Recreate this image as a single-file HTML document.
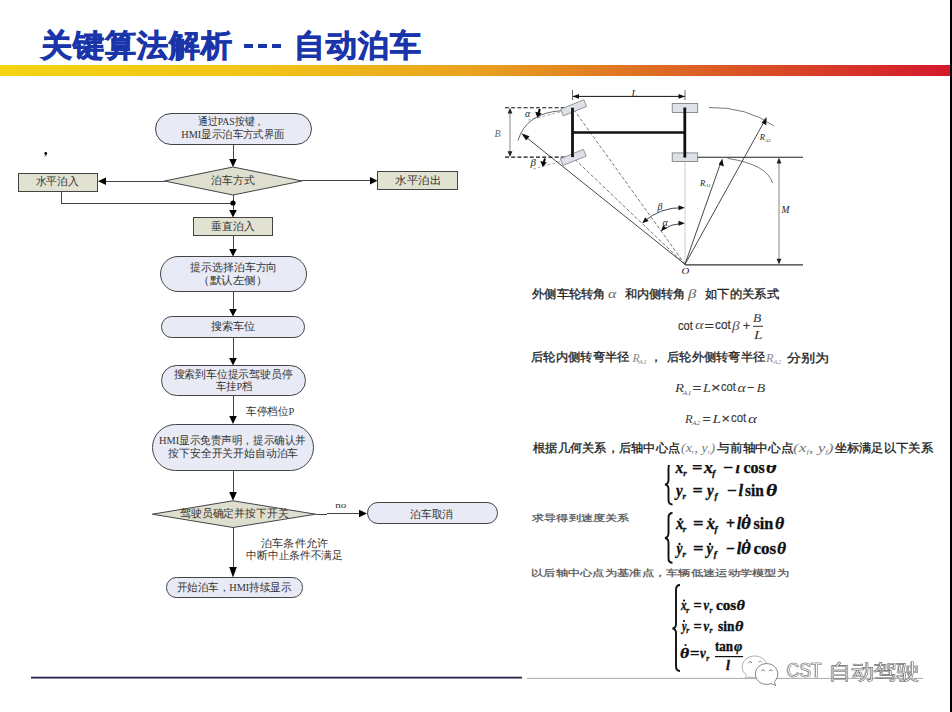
<!DOCTYPE html>
<html><head><meta charset="utf-8">
<style>
html,body{margin:0;padding:0;}
body{width:952px;height:712px;background:#fff;position:relative;overflow:hidden;font-family:"Liberation Sans",sans-serif;}
.a{position:absolute;white-space:nowrap;}
#title,#title2{top:25.5px;font-size:31px;font-weight:bold;color:#1a35aa;line-height:40px;letter-spacing:1px;-webkit-text-stroke:0.8px #1a35aa;}
#bar{left:0;top:65px;width:950px;height:11px;background:linear-gradient(90deg,#f3d412 0%,#f2c318 27%,#e9a21f 50%,#de6f24 68%,#d84426 84%,#d4182c 100%);}
#edge{left:950px;top:0;width:2px;height:712px;background:#000;}
svg{position:absolute;left:0;top:0;}
</style></head><body>
<div id="title" class="a" style="left:41px;">关键算法解析</div>
<div class="a" style="left:244px;top:44.3px;width:9.3px;height:3.5px;background:#1a35aa;"></div>
<div class="a" style="left:258.2px;top:44.3px;width:9.3px;height:3.5px;background:#1a35aa;"></div>
<div class="a" style="left:271.9px;top:44.3px;width:9.3px;height:3.5px;background:#1a35aa;"></div>
<div id="title2" class="a" style="left:294px;">自动泊车</div>
<div id="bar" class="a"></div>
<div id="edge" class="a"></div>
<svg width="952" height="712" viewBox="0 0 952 712">
<!-- flowchart -->
<g stroke="#444" stroke-width="1" fill="none">
<!-- box1 -->
<rect x="155.5" y="113.5" width="156.0" height="31.0" rx="15.5" fill="#e8eaf5"/>
<line shape-rendering="crispEdges" x1="233" y1="144" x2="233" y2="159"/>
<!-- diamond1 -->
<polygon points="233,167 302,181 233,195 164.5,181" fill="#dfdfcf"/>
<line shape-rendering="crispEdges" x1="164.5" y1="181.3" x2="106" y2="181.3"/>
<line shape-rendering="crispEdges" x1="302" y1="181" x2="370" y2="180.7"/>
<rect x="18.5" y="173.5" width="79.0" height="18.0" fill="#e1e2d2"/>
<rect x="377.5" y="171.5" width="80.0" height="18.0" fill="#e1e2d2"/>
<polyline shape-rendering="crispEdges" points="61.5,191 61.5,203 233,203"/>
<line shape-rendering="crispEdges" x1="233" y1="195" x2="233" y2="210"/>
<rect x="193.5" y="217.5" width="79.0" height="18.0" fill="#e1e2d2"/>
<line shape-rendering="crispEdges" x1="233" y1="235" x2="233" y2="249"/>
<rect x="160.5" y="256.5" width="146.0" height="35.0" rx="17.5" fill="#e8eaf5"/>
<line shape-rendering="crispEdges" x1="233" y1="291.5" x2="233" y2="309"/>
<rect x="161.5" y="316.5" width="143.0" height="21.0" rx="10.25" fill="#e8eaf5"/>
<line shape-rendering="crispEdges" x1="233" y1="337" x2="233" y2="358"/>
<rect x="161.5" y="365.5" width="144.0" height="30.0" rx="15" fill="#e8eaf5"/>
<line shape-rendering="crispEdges" x1="233" y1="395.5" x2="233" y2="416"/>
<rect x="152.5" y="424.5" width="161.0" height="46.0" rx="23" fill="#e8eaf5"/>
<line shape-rendering="crispEdges" x1="233" y1="470" x2="233" y2="492"/>
<polygon points="233,500.8 315.7,514.2 233,527.5 152.3,514.2" fill="#dfdfcf"/>
<line shape-rendering="crispEdges" x1="315.7" y1="514.2" x2="359" y2="513.5"/>
<rect x="367.5" y="502.5" width="130.0" height="21.0" rx="10.4" fill="#e8eaf5"/>
<line shape-rendering="crispEdges" x1="233" y1="527.5" x2="233" y2="567"/>
<rect x="166.5" y="577.5" width="136.0" height="20.0" rx="9.8" fill="#e8eaf5"/>
</g>
<g fill="#000">
<!-- arrowheads down -->
<path d="M229.2,159 L236.8,159 L233,167 z"/>
<path d="M229.2,210 L236.8,210 L233,217.5 z"/>
<path d="M229.2,249 L236.8,249 L233,256.5 z"/>
<path d="M229.2,309 L236.8,309 L233,316.5 z"/>
<path d="M229.2,358 L236.8,358 L233,365.5 z"/>
<path d="M229.2,416 L236.8,416 L233,424 z"/>
<path d="M229.2,492 L236.8,492 L233,500.8 z"/>
<path d="M229.2,567 L236.8,567 L233,577.5 z"/>
<!-- left arrow -->
<path d="M106,177.5 L106,185.1 L98,181.3 z"/>
<!-- right arrows -->
<path d="M370,176.9 L370,184.5 L377.5,180.7 z"/>
<path d="M359,509.7 L359,517.3 L367,513.5 z"/>
<circle cx="233" cy="203" r="2.6"/>
</g>
<!-- diagram -->
<g fill="none">
<!-- L dimension -->
<line x1="572.5" y1="90" x2="572.5" y2="100" stroke="#444" stroke-width="0.8"/>
<line x1="685" y1="90" x2="685" y2="100" stroke="#444" stroke-width="0.8"/>
<line x1="573" y1="96.4" x2="684.5" y2="96.4" stroke="#111" stroke-width="1"/>
<path d="M572.5,96.4 L579,94 L579,98.8 z" fill="#111"/>
<path d="M685,96.4 L678.5,94 L678.5,98.8 z" fill="#111"/>
<!-- dashed B lines -->
<line x1="505" y1="107.7" x2="572.5" y2="107.7" stroke="#111" stroke-width="1.1" stroke-dasharray="4,2.2"/>
<line x1="505" y1="157.1" x2="572.5" y2="157.1" stroke="#111" stroke-width="1.1" stroke-dasharray="4,2.2"/>
<line x1="510" y1="110" x2="510" y2="155" stroke="#999" stroke-width="1.2"/>
<path d="M510,107.7 L507.6,113.5 L512.4,113.5 z" fill="#222"/>
<path d="M510,157.1 L507.6,151.3 L512.4,151.3 z" fill="#222"/>
<!-- wheel direction dashed -->
<line x1="560" y1="112" x2="527" y2="120.5" stroke="#888" stroke-width="0.7" stroke-dasharray="3,2"/>
<line x1="560" y1="161.5" x2="531" y2="169.7" stroke="#888" stroke-width="0.7" stroke-dasharray="3,2"/>
<!-- small angle arrows -->
<line x1="539.8" y1="109" x2="538.6" y2="113" stroke="#000" stroke-width="2"/>
<path d="M535.2,111.8 L541.6,113.2 L537.6,118 z" fill="#000"/>
<line x1="545" y1="158.5" x2="543.8" y2="162" stroke="#000" stroke-width="2"/>
<path d="M540.4,161 L546.8,162.4 L542.6,167 z" fill="#000"/>
<!-- lines to O -->
<line x1="685" y1="264.3" x2="572.5" y2="107.7" stroke="#555" stroke-width="0.8" stroke-dasharray="3.5,2"/>
<line x1="685" y1="264.3" x2="572.5" y2="157.1" stroke="#555" stroke-width="0.8" stroke-dasharray="3.5,2"/>
<line x1="685" y1="264.3" x2="524" y2="135.5" stroke="#333" stroke-width="0.9"/>
<path d="M521.3,133.3 L529.5,136.2 L526.2,140.4 z" fill="#111"/>
<line x1="685" y1="161.6" x2="685" y2="264.3" stroke="#999" stroke-width="0.8" stroke-dasharray="1.2,0.8"/>
<!-- outer arc left -->
<path d="M518,140.5 Q526.3,113 561.3,110.7" stroke="#444" stroke-width="0.8"/>
<!-- front wheels -->
<g transform="translate(573.6,107.8) rotate(-22)"><rect x="-12.5" y="-3.6" width="25" height="7.2" fill="#dfe1e9" stroke="#888" stroke-width="0.8"/></g>
<g transform="translate(573.2,157.4) rotate(-22)"><rect x="-12.5" y="-3.6" width="25" height="7.2" fill="#dfe1e9" stroke="#888" stroke-width="0.8"/></g>
<!-- rear wheels -->
<rect x="672.2" y="103.5" width="25.5" height="8.9" fill="#dfe1e9" stroke="#777" stroke-width="0.8"/>
<rect x="672.2" y="152.9" width="25.5" height="8.7" fill="#dfe1e9" stroke="#777" stroke-width="0.8"/>
<!-- axles and body -->
<line x1="572.5" y1="107.7" x2="572.5" y2="157.1" stroke="#111" stroke-width="2.8"/>
<line x1="684.8" y1="107.5" x2="684.8" y2="157.6" stroke="#111" stroke-width="2.8"/>
<line x1="572.5" y1="132.5" x2="684.8" y2="132.5" stroke="#111" stroke-width="2.6"/>
<!-- right side -->
<line x1="697.7" y1="157.3" x2="803" y2="157.3" stroke="#222" stroke-width="1.1"/>
<line x1="685" y1="264.8" x2="803" y2="264.8" stroke="#333" stroke-width="1.2"/>
<path d="M709,107.5 Q746.7,106.8 774,126" stroke="#555" stroke-width="0.8"/>
<path d="M727.5,158.4 Q766.8,164.2 772.6,183" stroke="#555" stroke-width="0.8"/>
<line x1="685" y1="264.3" x2="764.5" y2="121" stroke="#333" stroke-width="0.9"/>
<path d="M766.5,117.1 L766.3,125.2 L761.6,122.6 z" fill="#111"/>
<line x1="685" y1="264.3" x2="720.8" y2="162.5" stroke="#333" stroke-width="0.9"/>
<path d="M722.3,158.4 L723.8,166.4 L718.7,164.6 z" fill="#111"/>
<line x1="779" y1="160" x2="779" y2="262" stroke="#999" stroke-width="1.2"/>
<path d="M779,157.6 L776.6,163.5 L781.4,163.5 z" fill="#222"/>
<path d="M779,264.6 L776.6,258.7 L781.4,258.7 z" fill="#222"/>
<!-- angle arcs at O -->
<path d="M683,207.7 A57,57 0 0 0 643.5,222" stroke="#333" stroke-width="0.9"/>
<path d="M684.8,207.8 L678.5,205.3 L678.5,210.3 z" fill="#111"/>
<path d="M642.2,223.2 L645.2,217.3 L648.6,221 z" fill="#111"/>
<path d="M683,223.2 A41,41 0 0 0 662,230" stroke="#333" stroke-width="0.9"/>
<path d="M684.8,223.2 L678.5,220.7 L678.5,225.7 z" fill="#111"/>
<path d="M660.8,231.2 L663.2,225.2 L666.8,228.6 z" fill="#111"/>
</g>
<g font-family="Liberation Serif,serif" font-style="italic" fill="#222">
<text x="631.5" y="97" font-size="10">L</text>
<text x="494.5" y="137" font-size="10" fill="#666">B</text>
<text x="525" y="116.5" font-size="10">α</text>
<text x="530.5" y="166" font-size="11">β</text>
<text x="657.5" y="209.5" font-size="10">β</text>
<text x="662.5" y="225.5" font-size="10">α</text>
<text x="681.6" y="274" font-size="9" transform="translate(681.6,274) scale(1.2,1) translate(-681.6,-274)">O</text>
<text x="781.5" y="212.5" font-size="9.5">M</text>
<text x="759.8" y="140" font-size="8.5">R<tspan font-size="5" dy="1.5">A2</tspan></text>
<text x="700" y="185.5" font-size="8.5">R<tspan font-size="5" dy="1.5">A1</tspan></text>
</g>
<!-- braces -->
<g fill="none" stroke="#111" stroke-width="1.9">
<path d="M672.5,463 Q668.5,463 668.5,468 L668.5,480 Q668.5,484 665,484.5 Q668.5,485 668.5,489 L668.5,500 Q668.5,504.5 672.5,504.5"/>
<path d="M672.5,513 Q668.5,513 668.5,518 L668.5,533 Q668.5,537.5 665,538 Q668.5,538.5 668.5,543 L668.5,558 Q668.5,562.8 672.5,562.8"/>
<path d="M680,585 Q676,585 676,590 L676,624 Q676,628 672.5,628.5 Q676,629 676,633 L676,666 Q676,671 680,671"/>
</g>
<circle cx="45.7" cy="153.4" r="1.35" fill="#000"/><path d="M46.6,153.6 Q46.6,155.6 44.6,156.4" stroke="#222" stroke-width="0.8" fill="none"/>
<!-- bottom lines -->
<line x1="31" y1="677.6" x2="522" y2="677.6" stroke="#25204a" stroke-width="1.6"/>
<line x1="527" y1="678.4" x2="923" y2="678.4" stroke="#aaa" stroke-width="1"/>
</svg>
<svg width="952" height="712" viewBox="0 0 952 712" style="position:absolute;left:0;top:0">
<text x="675.50" y="472.70" font-size="16.5" font-family="Liberation Serif,serif" fill="#111" font-style="italic" font-weight="bold" textLength="7.79" lengthAdjust="spacingAndGlyphs" stroke="#111" stroke-width="0.35">x</text>
<text x="683.20" y="475.70" font-size="9" font-family="Liberation Serif,serif" fill="#111" font-style="italic" font-weight="bold" stroke="#111" stroke-width="0.35">r</text>
<text x="692.00" y="472.70" font-size="16.5" font-family="Liberation Serif,serif" fill="#111" font-weight="bold" textLength="10.47" lengthAdjust="spacingAndGlyphs" stroke="#111" stroke-width="0.35">=</text>
<text x="704.00" y="472.70" font-size="16.5" font-family="Liberation Serif,serif" fill="#111" font-style="italic" font-weight="bold" textLength="8.86" lengthAdjust="spacingAndGlyphs" stroke="#111" stroke-width="0.35">x</text>
<text x="712.30" y="475.70" font-size="9" font-family="Liberation Serif,serif" fill="#111" font-style="italic" font-weight="bold" stroke="#111" stroke-width="0.35">f</text>
<text x="723.00" y="472.70" font-size="16.5" font-family="Liberation Serif,serif" fill="#111" font-weight="bold" textLength="10.13" lengthAdjust="spacingAndGlyphs" stroke="#111" stroke-width="0.35">−</text>
<text x="735.40" y="472.70" font-size="16.5" font-family="Liberation Serif,serif" fill="#111" font-style="italic" font-weight="bold" stroke="#111" stroke-width="0.35">l</text>
<text x="743.50" y="472.70" font-size="16.5" font-family="Liberation Serif,serif" fill="#111" font-weight="bold" textLength="21.23" lengthAdjust="spacingAndGlyphs" stroke="#111" stroke-width="0.35">cos</text>
<text x="766.00" y="472.70" font-size="16.5" font-family="Liberation Serif,serif" fill="#111" font-style="italic" font-weight="bold" textLength="10.47" lengthAdjust="spacingAndGlyphs" stroke="#111" stroke-width="0.35">θ</text>
<rect x="528" y="437" width="415" height="28" fill="#fff"/>
<text x="532.00" y="297.70" font-size="12.4" font-family="Liberation Sans,sans-serif" fill="#1e1e1e" textLength="73.67" lengthAdjust="spacingAndGlyphs" stroke="#1e1e1e" stroke-width="0.3">外侧车轮转角</text>
<text x="608.00" y="297.70" font-size="13" font-family="Liberation Serif,serif" fill="#666" font-style="italic" textLength="8.36" lengthAdjust="spacingAndGlyphs">α</text>
<text x="624.50" y="298.20" font-size="12.4" font-family="Liberation Sans,sans-serif" fill="#1e1e1e" textLength="61.18" lengthAdjust="spacingAndGlyphs" stroke="#1e1e1e" stroke-width="0.3">和内侧转角</text>
<text x="688.00" y="297.70" font-size="13" font-family="Liberation Serif,serif" fill="#666" font-style="italic" textLength="8.24" lengthAdjust="spacingAndGlyphs">β</text>
<text x="705.00" y="298.20" font-size="12.4" font-family="Liberation Sans,sans-serif" fill="#1e1e1e" textLength="74.05" lengthAdjust="spacingAndGlyphs" stroke="#1e1e1e" stroke-width="0.3">如下的关系式</text>
<text x="678.00" y="329.70" font-size="13.5" font-family="Liberation Sans,sans-serif" fill="#333" textLength="14.81" lengthAdjust="spacingAndGlyphs" stroke="#333" stroke-width="0.2">cot</text>
<text x="695.00" y="328.70" font-size="13.5" font-family="Liberation Serif,serif" fill="#555" font-style="italic" textLength="8.63" lengthAdjust="spacingAndGlyphs">α</text>
<text x="704.50" y="329.70" font-size="13.5" font-family="Liberation Sans,sans-serif" fill="#333" textLength="9.43" lengthAdjust="spacingAndGlyphs" stroke="#333" stroke-width="0.2">=</text>
<text x="715.00" y="329.20" font-size="13.5" font-family="Liberation Sans,sans-serif" fill="#333" textLength="15.76" lengthAdjust="spacingAndGlyphs" stroke="#333" stroke-width="0.2">cot</text>
<text x="732.00" y="329.70" font-size="13.5" font-family="Liberation Serif,serif" fill="#555" font-style="italic" textLength="7.63" lengthAdjust="spacingAndGlyphs">β</text>
<text x="743.00" y="329.70" font-size="13.5" font-family="Liberation Sans,sans-serif" fill="#333" textLength="7.10" lengthAdjust="spacingAndGlyphs" stroke="#333" stroke-width="0.2">+</text>
<text x="753.00" y="321.70" font-size="12.5" font-family="Liberation Serif,serif" fill="#333" font-style="italic" textLength="8.25" lengthAdjust="spacingAndGlyphs">B</text>
<text x="754.00" y="338.70" font-size="12.5" font-family="Liberation Serif,serif" fill="#333" font-style="italic" textLength="8.48" lengthAdjust="spacingAndGlyphs">L</text>
<text x="531.00" y="361.00" font-size="12.1" font-family="Liberation Sans,sans-serif" fill="#1e1e1e" textLength="98.59" lengthAdjust="spacingAndGlyphs" stroke="#1e1e1e" stroke-width="0.3">后轮内侧转弯半径</text>
<text x="632.50" y="362.40" font-size="11.5" font-family="Liberation Serif,serif" fill="#888" font-style="italic" textLength="7.10" lengthAdjust="spacingAndGlyphs">R</text>
<text x="638.00" y="364.40" font-size="6" font-family="Liberation Serif,serif" fill="#999" font-style="italic" textLength="9.02" lengthAdjust="spacingAndGlyphs">A1</text>
<text x="649.50" y="361.00" font-size="12.1" font-family="Liberation Sans,sans-serif" fill="#1e1e1e" stroke="#1e1e1e" stroke-width="0.3">，</text>
<text x="667.00" y="361.00" font-size="12.1" font-family="Liberation Sans,sans-serif" fill="#1e1e1e" textLength="98.07" lengthAdjust="spacingAndGlyphs" stroke="#1e1e1e" stroke-width="0.3">后轮外侧转弯半径</text>
<text x="766.00" y="362.40" font-size="11.5" font-family="Liberation Serif,serif" fill="#888" font-style="italic" textLength="7.52" lengthAdjust="spacingAndGlyphs">R</text>
<text x="773.00" y="364.40" font-size="6" font-family="Liberation Serif,serif" fill="#999" font-style="italic" textLength="8.34" lengthAdjust="spacingAndGlyphs">A2</text>
<text x="787.00" y="361.50" font-size="12.1" font-family="Liberation Sans,sans-serif" fill="#1e1e1e" textLength="42.22" lengthAdjust="spacingAndGlyphs" stroke="#1e1e1e" stroke-width="0.3">分别为</text>
<text x="675.00" y="392.20" font-size="12.5" font-family="Liberation Serif,serif" fill="#3a3a3a" font-style="italic" textLength="8.97" lengthAdjust="spacingAndGlyphs">R</text>
<text x="682.50" y="394.70" font-size="6.5" font-family="Liberation Serif,serif" fill="#666" font-style="italic" textLength="8.93" lengthAdjust="spacingAndGlyphs">A1</text>
<text x="692.50" y="392.20" font-size="13" font-family="Liberation Sans,sans-serif" fill="#3a3a3a" textLength="8.80" lengthAdjust="spacingAndGlyphs" stroke="#3a3a3a" stroke-width="0.2">=</text>
<text x="703.00" y="392.20" font-size="12.5" font-family="Liberation Serif,serif" fill="#3a3a3a" font-style="italic" textLength="8.02" lengthAdjust="spacingAndGlyphs">L</text>
<text x="711.00" y="392.20" font-size="12" font-family="Liberation Sans,sans-serif" fill="#3a3a3a" textLength="9.51" lengthAdjust="spacingAndGlyphs" stroke="#3a3a3a" stroke-width="0.2">×</text>
<text x="721.00" y="390.90" font-size="13.5" font-family="Liberation Sans,sans-serif" fill="#3a3a3a" textLength="14.74" lengthAdjust="spacingAndGlyphs" stroke="#3a3a3a" stroke-width="0.2">cot</text>
<text x="737.50" y="392.20" font-size="13.5" font-family="Liberation Serif,serif" fill="#3a3a3a" font-style="italic" textLength="8.25" lengthAdjust="spacingAndGlyphs">α</text>
<text x="747.00" y="392.20" font-size="13" font-family="Liberation Sans,sans-serif" fill="#3a3a3a" textLength="7.33" lengthAdjust="spacingAndGlyphs" stroke="#3a3a3a" stroke-width="0.2">−</text>
<text x="756.50" y="392.20" font-size="12.5" font-family="Liberation Serif,serif" fill="#3a3a3a" font-style="italic" textLength="8.71" lengthAdjust="spacingAndGlyphs">B</text>
<text x="685.00" y="422.70" font-size="12.5" font-family="Liberation Serif,serif" fill="#3a3a3a" font-style="italic" textLength="7.54" lengthAdjust="spacingAndGlyphs">R</text>
<text x="692.00" y="425.20" font-size="6.5" font-family="Liberation Serif,serif" fill="#666" font-style="italic" textLength="8.29" lengthAdjust="spacingAndGlyphs">A2</text>
<text x="702.50" y="422.70" font-size="13" font-family="Liberation Sans,sans-serif" fill="#3a3a3a" textLength="8.18" lengthAdjust="spacingAndGlyphs" stroke="#3a3a3a" stroke-width="0.2">=</text>
<text x="712.50" y="422.70" font-size="12.5" font-family="Liberation Serif,serif" fill="#3a3a3a" font-style="italic" textLength="8.55" lengthAdjust="spacingAndGlyphs">L</text>
<text x="721.50" y="422.70" font-size="12" font-family="Liberation Sans,sans-serif" fill="#3a3a3a" textLength="8.42" lengthAdjust="spacingAndGlyphs" stroke="#3a3a3a" stroke-width="0.2">×</text>
<text x="731.00" y="421.90" font-size="13.5" font-family="Liberation Sans,sans-serif" fill="#3a3a3a" textLength="15.14" lengthAdjust="spacingAndGlyphs" stroke="#3a3a3a" stroke-width="0.2">cot</text>
<text x="748.00" y="422.70" font-size="13.5" font-family="Liberation Serif,serif" fill="#3a3a3a" font-style="italic" textLength="9.00" lengthAdjust="spacingAndGlyphs">α</text>
<text x="533.00" y="451.90" font-size="12.3" font-family="Liberation Sans,sans-serif" fill="#1e1e1e" textLength="147.09" lengthAdjust="spacingAndGlyphs" stroke="#1e1e1e" stroke-width="0.3">根据几何关系，后轴中心点</text>
<text x="681.00" y="451.90" font-size="12" font-family="Liberation Serif,serif" fill="#777" font-style="italic" textLength="34.06" lengthAdjust="spacingAndGlyphs">(x<tspan font-size="6" dy="2">r</tspan><tspan dy="-2">, y</tspan><tspan font-size="6" dy="2">r</tspan><tspan dy="-2">)</tspan></text>
<text x="717.00" y="451.90" font-size="12.3" font-family="Liberation Sans,sans-serif" fill="#1e1e1e" textLength="76.52" lengthAdjust="spacingAndGlyphs" stroke="#1e1e1e" stroke-width="0.3">与前轴中心点</text>
<text x="793.00" y="451.90" font-size="12" font-family="Liberation Serif,serif" fill="#777" font-style="italic" textLength="40.58" lengthAdjust="spacingAndGlyphs">(x<tspan font-size="6" dy="2">f</tspan><tspan dy="-2">, y</tspan><tspan font-size="6" dy="2">f</tspan><tspan dy="-2">)</tspan></text>
<text x="834.50" y="451.90" font-size="12.3" font-family="Liberation Sans,sans-serif" fill="#1e1e1e" textLength="98.53" lengthAdjust="spacingAndGlyphs" stroke="#1e1e1e" stroke-width="0.3">坐标满足以下关系</text>
<text x="532.00" y="521.40" font-size="9.2" font-family="Liberation Sans,sans-serif" fill="#555" textLength="97.61" lengthAdjust="spacingAndGlyphs" stroke="#555" stroke-width="0.25">求导得到速度关系</text>
<text x="531.00" y="576.40" font-size="9.2" font-family="Liberation Sans,sans-serif" fill="#555" textLength="258.05" lengthAdjust="spacingAndGlyphs" stroke="#555" stroke-width="0.25">以后轴中心点为基准点，车辆低速运动学模型为</text>
<text x="676.00" y="496.20" font-size="16.5" font-family="Liberation Serif,serif" fill="#111" font-style="italic" font-weight="bold" textLength="6.63" lengthAdjust="spacingAndGlyphs" stroke="#111" stroke-width="0.35">y</text>
<text x="682.50" y="499.20" font-size="9" font-family="Liberation Serif,serif" fill="#111" font-style="italic" font-weight="bold" stroke="#111" stroke-width="0.35">r</text>
<text x="692.50" y="496.20" font-size="16.5" font-family="Liberation Serif,serif" fill="#111" font-weight="bold" textLength="10.28" lengthAdjust="spacingAndGlyphs" stroke="#111" stroke-width="0.35">=</text>
<text x="707.00" y="496.20" font-size="16.5" font-family="Liberation Serif,serif" fill="#111" font-style="italic" font-weight="bold" textLength="6.67" lengthAdjust="spacingAndGlyphs" stroke="#111" stroke-width="0.35">y</text>
<text x="714.50" y="499.20" font-size="9" font-family="Liberation Serif,serif" fill="#111" font-style="italic" font-weight="bold" stroke="#111" stroke-width="0.35">f</text>
<text x="727.00" y="496.20" font-size="16.5" font-family="Liberation Serif,serif" fill="#111" font-weight="bold" textLength="9.84" lengthAdjust="spacingAndGlyphs" stroke="#111" stroke-width="0.35">−</text>
<text x="738.60" y="496.20" font-size="16.5" font-family="Liberation Serif,serif" fill="#111" font-style="italic" font-weight="bold" stroke="#111" stroke-width="0.35">l</text>
<text x="745.00" y="496.20" font-size="16.5" font-family="Liberation Serif,serif" fill="#111" font-weight="bold" textLength="18.74" lengthAdjust="spacingAndGlyphs" stroke="#111" stroke-width="0.35">sin</text>
<text x="766.00" y="496.20" font-size="16.5" font-family="Liberation Serif,serif" fill="#111" font-style="italic" font-weight="bold" textLength="11.11" lengthAdjust="spacingAndGlyphs" stroke="#111" stroke-width="0.35">θ</text>
<text x="676.00" y="529.30" font-size="16.5" font-family="Liberation Serif,serif" fill="#111" font-style="italic" font-weight="bold" textLength="7.73" lengthAdjust="spacingAndGlyphs" stroke="#111" stroke-width="0.35">x</text>
<text x="682.80" y="532.30" font-size="9" font-family="Liberation Serif,serif" fill="#111" font-style="italic" font-weight="bold" stroke="#111" stroke-width="0.35">r</text>
<text x="693.00" y="529.30" font-size="16.5" font-family="Liberation Serif,serif" fill="#111" font-weight="bold" textLength="10.57" lengthAdjust="spacingAndGlyphs" stroke="#111" stroke-width="0.35">=</text>
<text x="706.50" y="529.30" font-size="16.5" font-family="Liberation Serif,serif" fill="#111" font-style="italic" font-weight="bold" textLength="8.63" lengthAdjust="spacingAndGlyphs" stroke="#111" stroke-width="0.35">x</text>
<text x="714.50" y="532.30" font-size="9" font-family="Liberation Serif,serif" fill="#111" font-style="italic" font-weight="bold" stroke="#111" stroke-width="0.35">f</text>
<text x="726.00" y="529.30" font-size="16.5" font-family="Liberation Serif,serif" fill="#111" font-weight="bold" textLength="9.04" lengthAdjust="spacingAndGlyphs" stroke="#111" stroke-width="0.35">+</text>
<text x="736.80" y="529.30" font-size="16.5" font-family="Liberation Serif,serif" fill="#111" font-style="italic" font-weight="bold" stroke="#111" stroke-width="0.35">l</text>
<text x="741.00" y="529.30" font-size="16.5" font-family="Liberation Serif,serif" fill="#111" font-style="italic" font-weight="bold" textLength="9.84" lengthAdjust="spacingAndGlyphs" stroke="#111" stroke-width="0.35">θ</text>
<text x="753.50" y="529.30" font-size="16.5" font-family="Liberation Serif,serif" fill="#111" font-weight="bold" textLength="19.72" lengthAdjust="spacingAndGlyphs" stroke="#111" stroke-width="0.35">sin</text>
<text x="775.00" y="529.30" font-size="16.5" font-family="Liberation Serif,serif" fill="#111" font-style="italic" font-weight="bold" textLength="9.17" lengthAdjust="spacingAndGlyphs" stroke="#111" stroke-width="0.35">θ</text>
<text x="676.50" y="554.30" font-size="16.5" font-family="Liberation Serif,serif" fill="#111" font-style="italic" font-weight="bold" textLength="5.98" lengthAdjust="spacingAndGlyphs" stroke="#111" stroke-width="0.35">y</text>
<text x="682.50" y="557.30" font-size="9" font-family="Liberation Serif,serif" fill="#111" font-style="italic" font-weight="bold" stroke="#111" stroke-width="0.35">r</text>
<text x="693.00" y="554.30" font-size="16.5" font-family="Liberation Serif,serif" fill="#111" font-weight="bold" textLength="10.57" lengthAdjust="spacingAndGlyphs" stroke="#111" stroke-width="0.35">=</text>
<text x="706.50" y="554.30" font-size="16.5" font-family="Liberation Serif,serif" fill="#111" font-style="italic" font-weight="bold" textLength="6.58" lengthAdjust="spacingAndGlyphs" stroke="#111" stroke-width="0.35">y</text>
<text x="713.80" y="557.30" font-size="9" font-family="Liberation Serif,serif" fill="#111" font-style="italic" font-weight="bold" stroke="#111" stroke-width="0.35">f</text>
<text x="726.00" y="554.30" font-size="16.5" font-family="Liberation Serif,serif" fill="#111" font-weight="bold" textLength="8.76" lengthAdjust="spacingAndGlyphs" stroke="#111" stroke-width="0.35">−</text>
<text x="736.80" y="554.30" font-size="16.5" font-family="Liberation Serif,serif" fill="#111" font-style="italic" font-weight="bold" stroke="#111" stroke-width="0.35">l</text>
<text x="741.00" y="554.30" font-size="16.5" font-family="Liberation Serif,serif" fill="#111" font-style="italic" font-weight="bold" textLength="9.84" lengthAdjust="spacingAndGlyphs" stroke="#111" stroke-width="0.35">θ</text>
<text x="753.50" y="554.30" font-size="16.5" font-family="Liberation Serif,serif" fill="#111" font-weight="bold" textLength="22.64" lengthAdjust="spacingAndGlyphs" stroke="#111" stroke-width="0.35">cos</text>
<text x="777.00" y="554.30" font-size="16.5" font-family="Liberation Serif,serif" fill="#111" font-style="italic" font-weight="bold" textLength="9.05" lengthAdjust="spacingAndGlyphs" stroke="#111" stroke-width="0.35">θ</text>
<text x="681.00" y="610.00" font-size="14" font-family="Liberation Serif,serif" fill="#111" font-style="italic" font-weight="bold" textLength="5.60" lengthAdjust="spacingAndGlyphs" stroke="#111" stroke-width="0.35">x</text>
<text x="686.30" y="612.50" font-size="7.5" font-family="Liberation Serif,serif" fill="#111" font-style="italic" font-weight="bold" stroke="#111" stroke-width="0.35">r</text>
<text x="693.50" y="610.00" font-size="14" font-family="Liberation Serif,serif" fill="#111" font-weight="bold" textLength="8.18" lengthAdjust="spacingAndGlyphs" stroke="#111" stroke-width="0.35">=</text>
<text x="703.50" y="610.00" font-size="14" font-family="Liberation Serif,serif" fill="#111" font-style="italic" font-weight="bold" textLength="5.60" lengthAdjust="spacingAndGlyphs" stroke="#111" stroke-width="0.35">v</text>
<text x="709.50" y="612.50" font-size="7.5" font-family="Liberation Serif,serif" fill="#111" font-style="italic" font-weight="bold" stroke="#111" stroke-width="0.35">r</text>
<text x="716.00" y="610.00" font-size="14" font-family="Liberation Serif,serif" fill="#111" font-weight="bold" textLength="20.22" lengthAdjust="spacingAndGlyphs" stroke="#111" stroke-width="0.35">cos</text>
<text x="736.50" y="610.00" font-size="14" font-family="Liberation Serif,serif" fill="#111" font-style="italic" font-weight="bold" textLength="8.39" lengthAdjust="spacingAndGlyphs" stroke="#111" stroke-width="0.35">θ</text>
<text x="682.00" y="630.70" font-size="14" font-family="Liberation Serif,serif" fill="#111" font-style="italic" font-weight="bold" textLength="4.60" lengthAdjust="spacingAndGlyphs" stroke="#111" stroke-width="0.35">y</text>
<text x="686.30" y="633.20" font-size="7.5" font-family="Liberation Serif,serif" fill="#111" font-style="italic" font-weight="bold" stroke="#111" stroke-width="0.35">r</text>
<text x="693.50" y="630.70" font-size="14" font-family="Liberation Serif,serif" fill="#111" font-weight="bold" textLength="8.18" lengthAdjust="spacingAndGlyphs" stroke="#111" stroke-width="0.35">=</text>
<text x="703.50" y="630.70" font-size="14" font-family="Liberation Serif,serif" fill="#111" font-style="italic" font-weight="bold" textLength="5.60" lengthAdjust="spacingAndGlyphs" stroke="#111" stroke-width="0.35">v</text>
<text x="709.50" y="633.20" font-size="7.5" font-family="Liberation Serif,serif" fill="#111" font-style="italic" font-weight="bold" stroke="#111" stroke-width="0.35">r</text>
<text x="718.00" y="630.70" font-size="14" font-family="Liberation Serif,serif" fill="#111" font-weight="bold" textLength="16.42" lengthAdjust="spacingAndGlyphs" stroke="#111" stroke-width="0.35">sin</text>
<text x="735.00" y="630.70" font-size="14" font-family="Liberation Serif,serif" fill="#111" font-style="italic" font-weight="bold" textLength="8.39" lengthAdjust="spacingAndGlyphs" stroke="#111" stroke-width="0.35">θ</text>
<text x="680.00" y="658.10" font-size="14" font-family="Liberation Serif,serif" fill="#111" font-style="italic" font-weight="bold" textLength="9.14" lengthAdjust="spacingAndGlyphs" stroke="#111" stroke-width="0.35">θ</text>
<text x="690.00" y="658.10" font-size="14" font-family="Liberation Serif,serif" fill="#111" font-weight="bold" textLength="9.48" lengthAdjust="spacingAndGlyphs" stroke="#111" stroke-width="0.35">=</text>
<text x="700.00" y="658.10" font-size="14" font-family="Liberation Serif,serif" fill="#111" font-style="italic" font-weight="bold" textLength="5.76" lengthAdjust="spacingAndGlyphs" stroke="#111" stroke-width="0.35">v</text>
<text x="706.30" y="660.60" font-size="7.5" font-family="Liberation Serif,serif" fill="#111" font-style="italic" font-weight="bold" stroke="#111" stroke-width="0.35">r</text>
<text x="715.00" y="650.80" font-size="14" font-family="Liberation Serif,serif" fill="#111" font-weight="bold" textLength="18.06" lengthAdjust="spacingAndGlyphs" stroke="#111" stroke-width="0.35">tan</text>
<text x="734.00" y="650.80" font-size="14" font-family="Liberation Serif,serif" fill="#111" font-style="italic" font-weight="bold" textLength="8.34" lengthAdjust="spacingAndGlyphs" stroke="#111" stroke-width="0.35">φ</text>
<text x="725.90" y="669.50" font-size="14" font-family="Liberation Serif,serif" fill="#111" font-style="italic" font-weight="bold" stroke="#111" stroke-width="0.35">l</text>
<text x="787.00" y="677.00" font-size="21" font-family="Liberation Sans,sans-serif" fill="#fff" textLength="35.08" lengthAdjust="spacingAndGlyphs" stroke="#707070" stroke-width="0.6" style="filter:drop-shadow(-0.6px 0.6px 0 #b8b8b8)">CST</text>
<text x="829.00" y="678.95" font-size="21" font-family="Liberation Sans,sans-serif" fill="#fff" textLength="90.25" lengthAdjust="spacingAndGlyphs" stroke="#707070" stroke-width="0.6" style="filter:drop-shadow(-0.6px 0.6px 0 #b8b8b8)">自动驾驶</text>
<text x="198.00" y="125.40" font-size="10.8" font-family="Liberation Serif,serif" fill="#333" textLength="66.37" lengthAdjust="spacingAndGlyphs">通过PAS按键，</text>
<text x="181.30" y="138.20" font-size="10.8" font-family="Liberation Serif,serif" fill="#333" textLength="103.56" lengthAdjust="spacingAndGlyphs">HMI显示泊车方式界面</text>
<text x="35.60" y="185.30" font-size="10.8" font-family="Liberation Serif,serif" fill="#333" textLength="43.28" lengthAdjust="spacingAndGlyphs">水平泊入</text>
<text x="211.40" y="184.10" font-size="10.8" font-family="Liberation Serif,serif" fill="#333" textLength="43.30" lengthAdjust="spacingAndGlyphs">泊车方式</text>
<text x="395.00" y="183.90" font-size="10.8" font-family="Liberation Serif,serif" fill="#333" textLength="46.08" lengthAdjust="spacingAndGlyphs">水平泊出</text>
<text x="211.40" y="230.10" font-size="10.8" font-family="Liberation Serif,serif" fill="#333" textLength="43.28" lengthAdjust="spacingAndGlyphs">垂直泊入</text>
<text x="190.00" y="271.40" font-size="10.8" font-family="Liberation Serif,serif" fill="#333" textLength="87.39" lengthAdjust="spacingAndGlyphs">提示选择泊车方向</text>
<text x="198.00" y="284.00" font-size="10.8" font-family="Liberation Serif,serif" fill="#333" textLength="69.32" lengthAdjust="spacingAndGlyphs">（默认左侧）</text>
<text x="210.60" y="329.90" font-size="10.8" font-family="Liberation Serif,serif" fill="#333" textLength="44.93" lengthAdjust="spacingAndGlyphs">搜索车位</text>
<text x="173.60" y="377.50" font-size="10.8" font-family="Liberation Serif,serif" fill="#333" textLength="118.95" lengthAdjust="spacingAndGlyphs">搜索到车位提示驾驶员停</text>
<text x="215.90" y="390.20" font-size="10.8" font-family="Liberation Serif,serif" fill="#333" textLength="36.44" lengthAdjust="spacingAndGlyphs">车挂P档</text>
<text x="246.10" y="414.60" font-size="10.8" font-family="Liberation Serif,serif" fill="#333" textLength="48.31" lengthAdjust="spacingAndGlyphs">车停档位P</text>
<text x="159.00" y="444.30" font-size="10.8" font-family="Liberation Serif,serif" fill="#333" textLength="146.85" lengthAdjust="spacingAndGlyphs">HMI显示免责声明，提示确认并</text>
<text x="168.10" y="457.30" font-size="10.8" font-family="Liberation Serif,serif" fill="#333" textLength="130.22" lengthAdjust="spacingAndGlyphs">按下安全开关开始自动泊车</text>
<text x="180.10" y="516.80" font-size="10.8" font-family="Liberation Serif,serif" fill="#333" textLength="108.34" lengthAdjust="spacingAndGlyphs">驾驶员确定并按下开关</text>
<text x="410.00" y="517.60" font-size="10.8" font-family="Liberation Serif,serif" fill="#333" textLength="43.28" lengthAdjust="spacingAndGlyphs">泊车取消</text>
<text x="261.20" y="546.90" font-size="10.8" font-family="Liberation Serif,serif" fill="#333" textLength="66.81" lengthAdjust="spacingAndGlyphs">泊车条件允许</text>
<text x="246.30" y="558.60" font-size="10.8" font-family="Liberation Serif,serif" fill="#333" textLength="96.64" lengthAdjust="spacingAndGlyphs">中断中止条件不满足</text>
<text x="176.60" y="590.50" font-size="10.8" font-family="Liberation Serif,serif" fill="#333" textLength="114.82" lengthAdjust="spacingAndGlyphs">开始泊车，HMI持续显示</text>
<text x="335.30" y="508.30" font-size="9" font-family="Liberation Serif,serif" fill="#333" textLength="10.99" lengthAdjust="spacingAndGlyphs">no</text>
<!-- fraction bars -->
<line x1="753" y1="326.3" x2="763" y2="326.3" stroke="#333" stroke-width="1"/>
<line x1="715" y1="656.6" x2="743.1" y2="656.6" stroke="#111" stroke-width="1.2"/>
<!-- dots -->
<g fill="#111">
<circle cx="680.5" cy="519.3" r="1.2"/>
<circle cx="710.5" cy="519.3" r="1.2"/>
<circle cx="747" cy="515.5" r="1.2"/>
<circle cx="679.5" cy="544" r="1.2"/>
<circle cx="710" cy="544" r="1.2"/>
<circle cx="747" cy="540.5" r="1.2"/>
<circle cx="684" cy="600.5" r="1.1"/>
<circle cx="684" cy="621" r="1.1"/>
<circle cx="685.5" cy="645" r="1.1"/>
</g>
<!-- wechat logo -->
<g fill="#fff" stroke="#666" stroke-width="0.8" stroke-linejoin="round">
<path d="M754.6,656 C747.5,656 742.2,660.8 742.2,667 C742.2,670.5 744,673.4 746.6,675.3 L745,679 L749.8,676.9 C751.3,677.5 752.9,677.9 754.6,677.9 C761.7,677.9 767,673.1 767,667 C767,660.8 761.7,656 754.6,656 Z" stroke="#999"/>
<path d="M766.6,663.6 C760.3,663.6 755.4,668.2 755.4,674 C755.4,679.8 760.3,684.4 766.6,684.4 C768.3,684.4 769.9,684.1 771.3,683.5 L775.6,685.6 L774.4,681.6 C776.5,679.7 777.8,677 777.8,674 C777.8,668.2 772.9,663.6 766.6,663.6 Z"/>
</g>
<g fill="none" stroke="#555" stroke-width="0.8" stroke-linecap="round">
<path d="M748.6,662.6 Q750.2,660 751.8,662.6"/>
<path d="M758.4,662.2 Q760,659.6 761.6,662.2" stroke="#888"/>
<path d="M761.4,670.6 Q763,668.4 764.6,670.6"/>
<path d="M769.2,670.6 Q770.8,668.4 772.4,670.6"/>
</g>

</svg>
</body></html>
